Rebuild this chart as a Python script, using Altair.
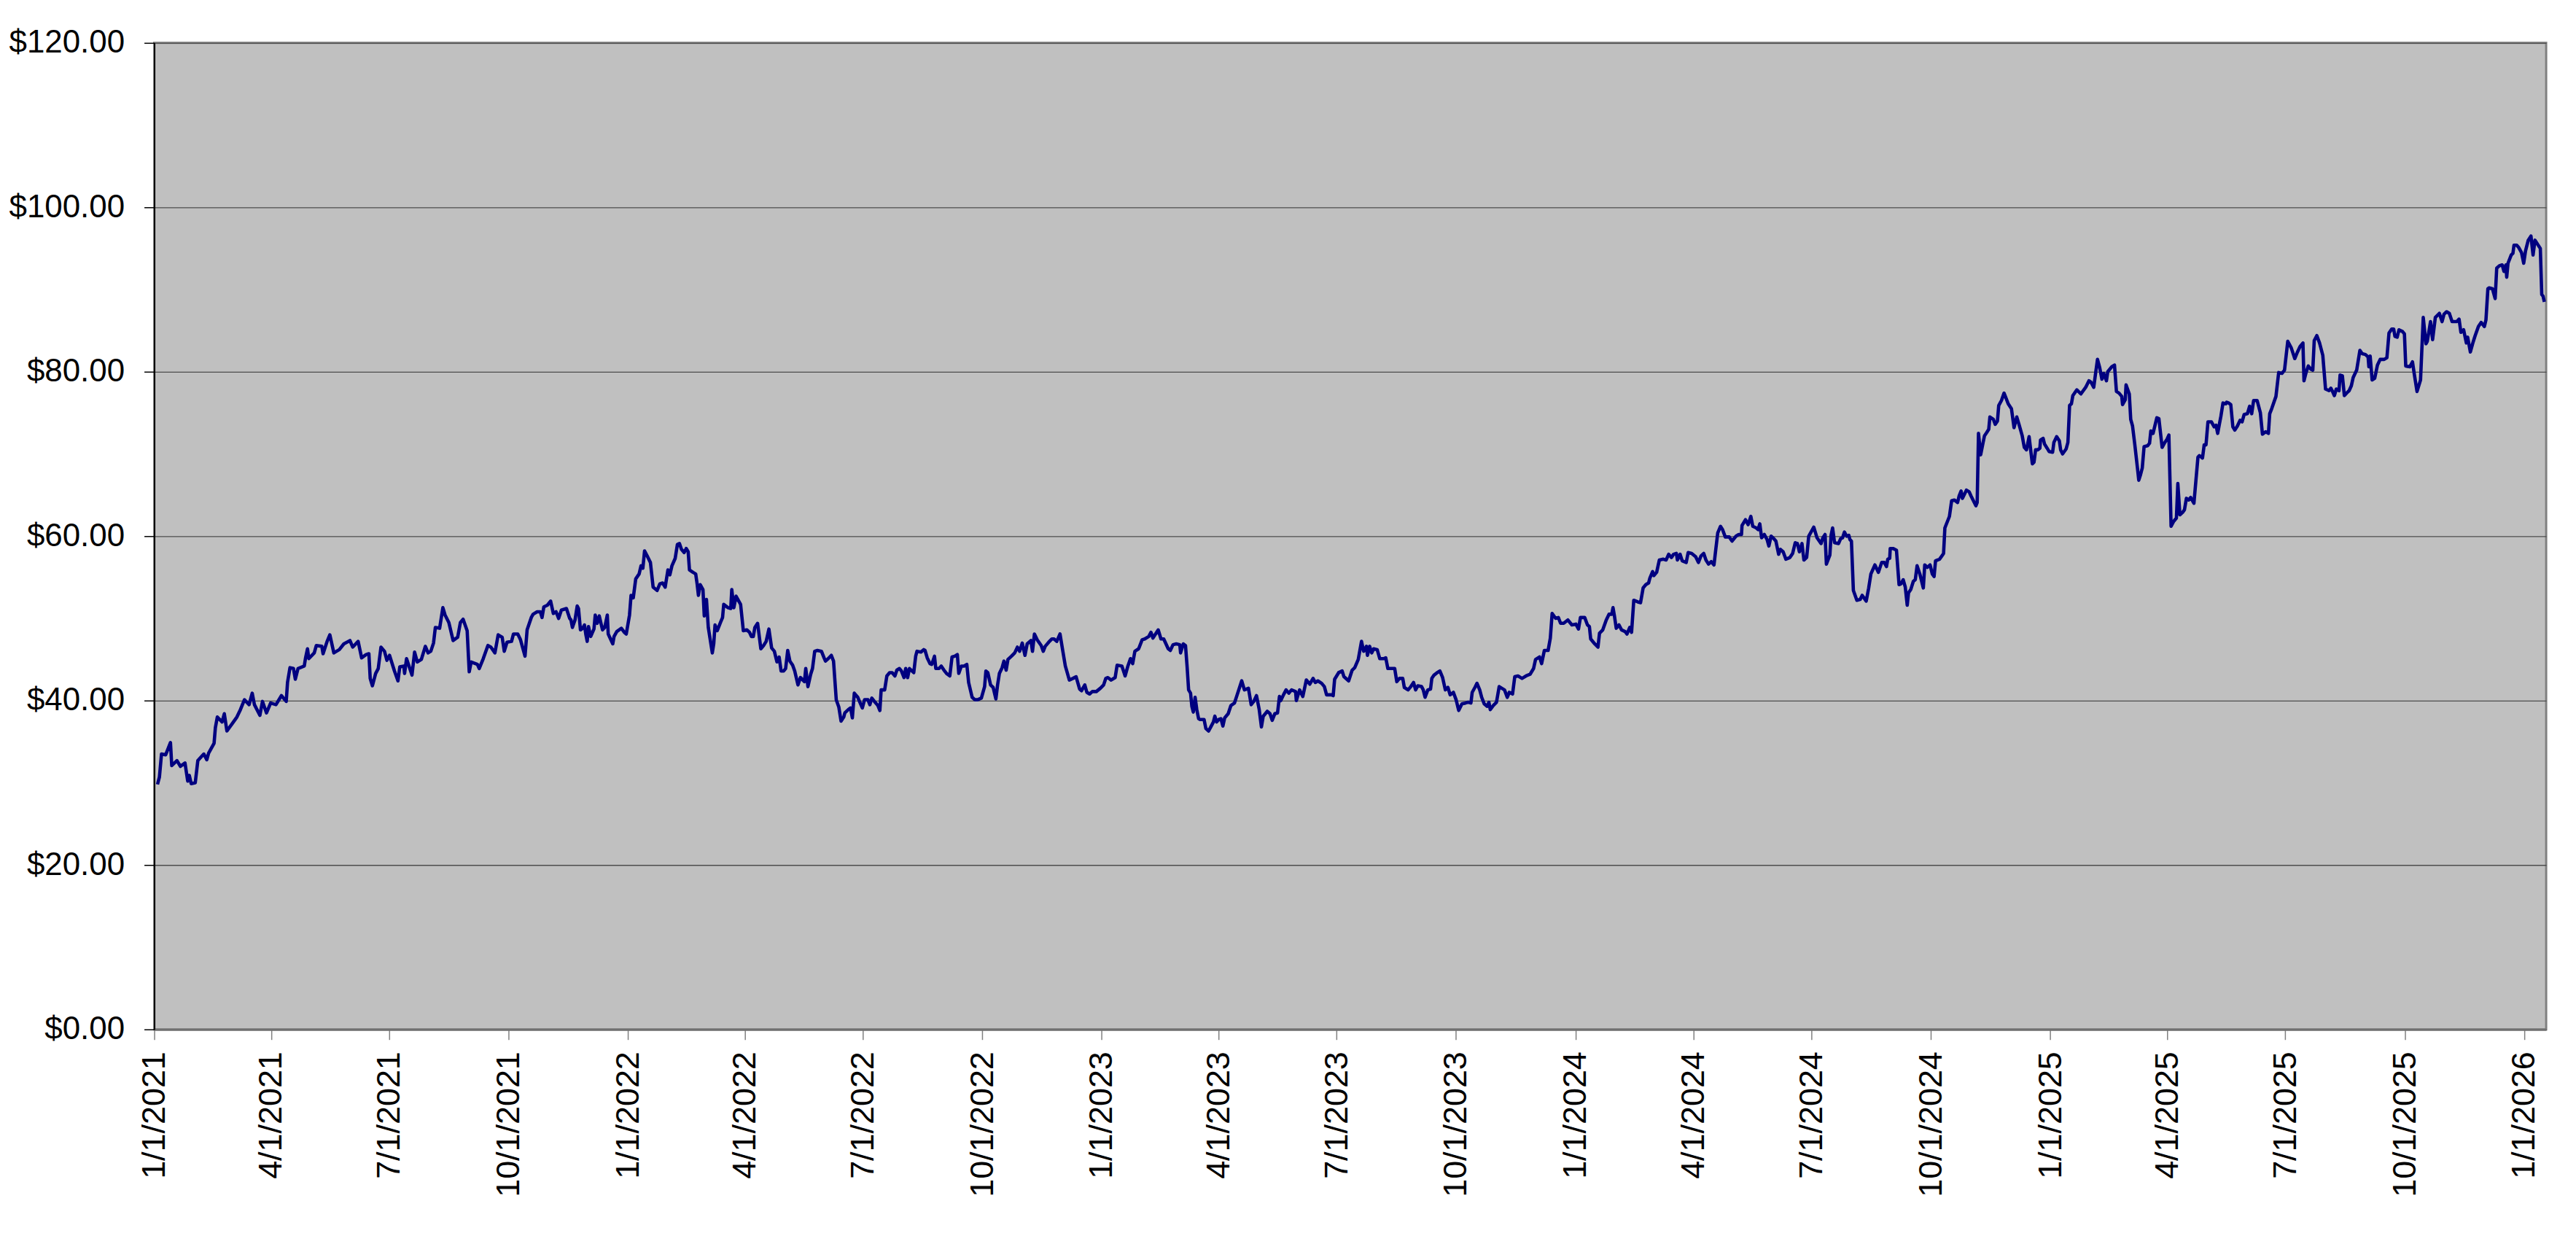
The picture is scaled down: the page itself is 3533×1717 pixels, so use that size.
import altair as alt
import pandas as pd

# Day offsets from 2021-01-01 and closing prices
days = [
    2.5, 4.0, 5.6, 8.8, 10.8, 12.5, 13.5, 17.5, 20.2, 23.7, 25.8, 27.0, 28.5, 31.6, 33.6, 38.2, 40.5, 41.9,
    46.1, 47.1, 48.6, 52.3, 54.0, 56.0, 60.6, 63.7, 66.4, 69.5, 73.1, 75.5, 77.2, 81.4, 83.4, 86.5, 89.7,
    93.8, 98.0, 101.7, 102.7, 104.6, 107.3, 108.7, 110.8, 115.6, 116.6, 118.1, 119.1, 123.3, 124.9, 129.1,
    130.1, 133.2, 135.3, 138.4, 142.6, 146.1, 150.8, 152.9, 157.1, 159.8, 163.3, 165.4, 166.4, 168.1, 170.6,
    172.6, 174.7, 177.4, 179.3, 181.3, 185.1, 187.8, 189.2, 192.3, 192.9, 194.4, 198.6, 200.6, 202.7, 205.8,
    208.9, 211.0, 213.1, 215.2, 216.6, 219.9, 222.4, 224.1, 227.0, 230.3, 233.8, 235.9, 238.0, 241.1, 242.7,
    244.2, 249.0, 250.4, 253.5, 257.1, 259.4, 262.5, 265.0, 268.1, 269.7, 271.8, 275.3, 276.8, 280.1, 282.2,
    285.7, 287.3, 290.5, 291.9, 295.0, 297.5, 298.8, 300.2, 302.9, 305.4, 307.5, 309.6, 311.6, 313.7,
    317.6, 320.1, 321.1, 322.2, 324.2, 325.9, 326.9, 328.4, 330.1, 331.5, 332.5, 333.6, 334.6, 336.3, 338.8,
    339.8, 341.3, 342.9, 345.4, 347.1, 349.1, 349.8, 353.3, 354.3, 356.4, 359.9, 362.2, 363.7, 366.2, 367.4,
    369.1, 371.0, 373.6, 375.1, 376.5, 377.8, 379.8, 382.3, 384.4, 387.5, 389.6, 391.7, 393.7, 395.8, 397.3,
    398.9, 401.4, 403.1, 404.7, 406.2, 408.3, 409.9, 411.4, 412.4, 415.1, 417.2, 418.2, 419.3, 420.7, 422.8,
    423.8, 425.5, 426.9, 430.0, 431.1, 432.1, 433.8, 436.3, 437.9, 438.8, 442.1, 444.2, 445.0, 446.6, 448.3,
    451.8, 453.9, 456.6, 458.7, 460.1, 461.6, 462.8, 464.9, 467.4, 469.5, 471.5, 473.6, 475.7, 477.8, 479.8,
    481.5, 483.0, 485.0, 486.5, 488.1, 489.8, 491.9, 493.5, 496.0, 497.9, 501.0, 502.0, 503.7, 505.8, 507.2,
    508.9, 511.0, 514.1, 516.1, 517.2, 519.3, 521.7, 523.4, 525.5, 527.5, 529.2, 531.3, 532.1, 534.8, 536.5,
    537.9, 539.4, 542.1, 543.7, 545.6, 547.3, 549.9, 551.4, 552.9, 554.9, 557.6, 559.1, 560.1, 562.8, 564.5,
    566.6, 568.6, 570.7, 572.2, 574.2, 575.7, 577.7, 579.0, 580.5, 581.9, 585.2, 586.7, 587.7, 590.8, 592.9,
    593.9, 595.6, 597.7, 599.1, 601.2, 602.2, 604.7, 606.4, 608.5, 610.5, 613.0, 614.7, 616.8, 618.8, 619.9,
    621.9, 624.0, 626.1, 627.5, 630.2, 632.3, 634.4,
    637.3, 639.8, 640.8, 642.3, 644.4, 646.4, 648.5, 649.8, 651.2, 653.3, 654.7, 656.4, 657.8, 660.5, 663.0,
    665.1, 666.8, 668.8, 670.9, 672.6, 675.5, 676.7, 678.2, 680.3, 683.4, 685.0, 686.5, 689.2, 691.7, 693.3,
    695.4, 697.9, 700.0, 702.0, 703.1, 705.1, 707.8, 710.3, 713.0, 714.5, 717.0, 718.6, 720.7, 722.8, 725.9,
    729.0, 731.5, 733.2, 734.8, 737.3, 740.4, 741.9, 745.6, 748.1, 750.2, 752.2, 753.9, 755.6, 758.5, 761.2,
    763.2, 766.3, 768.0, 769.5, 773.6, 775.7, 777.8, 781.3, 782.9, 785.0, 787.5, 790.2, 790.8, 792.9, 794.6,
    795.8, 797.0, 798.5, 799.5, 800.6, 802.0, 803.3, 804.7, 805.8, 808.9, 810.3, 812.4, 814.1, 816.1, 817.2,
    818.6, 820.3, 821.9, 823.4, 824.8, 827.5, 829.6, 832.3, 834.4, 837.9, 840.0, 843.1, 845.2, 847.2, 849.3,
    851.4, 853.1, 854.5, 857.6, 859.7, 861.4, 863.4, 865.5, 867.0, 868.0, 870.1, 872.1, 874.2, 876.3, 879.4,
    880.0, 882.5, 885.0, 887.7, 890.4, 892.9, 894.6, 896.6, 899.5, 901.6, 903.3, 907.0, 908.4, 909.5, 912.6,
    915.3, 916.7, 920.3, 923.0, 925.0, 927.7, 930.2, 931.9, 934.0, 934.8, 936.5, 938.1, 939.6, 942.3, 944.3,
    947.2, 948.9, 950.5, 953.0,
    955.8, 957.4, 959.5, 962.0, 963.2, 966.1, 968.2, 970.3, 971.9, 973.6, 976.5, 977.8, 979.2, 981.3, 983.4,
    984.4, 986.1, 988.5, 990.6, 992.7, 994.8, 996.8, 998.5, 1001.0, 1003.1, 1005.1, 1007.6, 1010.3, 1012.4,
    1014.5, 1015.5, 1017.6, 1019.2, 1021.3, 1022.8, 1024.8, 1026.9, 1028.4, 1029.4, 1031.7, 1034.2, 1036.3,
    1038.3, 1040.4, 1042.5, 1044.1, 1046.6, 1048.3, 1050.8, 1053.9, 1057.0, 1060.1, 1062.8, 1064.3, 1067.4,
    1069.0, 1071.1, 1074.0, 1075.7, 1077.1, 1079.8, 1081.9, 1083.6, 1086.0, 1089.2, 1092.3, 1095.4, 1097.4,
    1098.9, 1102.2, 1104.3, 1105.8, 1106.8, 1109.9, 1112.4, 1113.6, 1116.1, 1118.8, 1120.9, 1123.0, 1124.0,
    1125.0, 1126.5, 1128.6, 1130.6, 1133.3, 1134.8, 1136.9, 1138.3, 1140.0, 1143.1, 1145.2, 1147.2, 1149.3,
    1151.4, 1152.4, 1154.5, 1155.5, 1157.6, 1159.7, 1162.8, 1164.9, 1166.9, 1169.0, 1170.7, 1172.8, 1173.6,
    1175.7, 1177.3, 1180.4, 1181.9, 1184.6, 1187.7, 1189.8, 1191.8, 1193.9, 1195.6, 1197.6, 1199.7, 1201.8,
    1203.2, 1204.7, 1206.8, 1208.4, 1210.5, 1213.6, 1215.7, 1218.8, 1220.9, 1223.0, 1223.4, 1226.1, 1228.1,
    1230.2, 1231.7, 1234.4, 1235.8, 1237.1, 1238.5, 1240.6, 1242.7, 1244.1, 1245.8, 1247.9, 1249.5, 1251.6,
    1253.0, 1255.1, 1257.2, 1260.3, 1262.4, 1264.4, 1266.1, 1267.6, 1269.6, 1271.1, 1273.2, 1274.8,
    1278.7, 1281.2, 1284.3, 1285.7, 1287.4, 1288.4, 1291.1, 1292.0, 1293.2, 1294.7, 1297.8, 1299.4, 1300.9,
    1302.3, 1304.0, 1305.7, 1306.5, 1307.7, 1309.2, 1311.9, 1314.4, 1316.0, 1319.1, 1321.0, 1322.7, 1325.8,
    1328.5, 1331.0, 1333.0, 1334.7, 1335.7, 1337.2, 1337.6, 1339.7, 1342.4, 1344.4, 1345.9, 1347.6, 1349.2,
    1350.7, 1351.7, 1353.4, 1355.4, 1356.9, 1358.3, 1360.4, 1363.1, 1364.2, 1366.2, 1368.3, 1370.0, 1371.4,
    1372.5, 1375.6, 1377.0, 1378.7, 1379.7, 1381.2, 1383.2, 1384.9, 1387.0, 1389.5, 1390.7, 1392.2, 1393.2,
    1396.3, 1398.4, 1399.8, 1403.6, 1404.6, 1405.6, 1407.3, 1408.8, 1410.2, 1411.9, 1413.5, 1414.4, 1417.1,
    1418.5, 1420.2, 1421.2, 1423.3, 1425.3, 1426.8, 1428.5, 1431.0, 1433.0, 1435.1, 1436.8, 1439.3, 1440.9,
    1442.6, 1444.6, 1447.1, 1448.4, 1449.6, 1451.3, 1452.9, 1453.4, 1455.4, 1456.5, 1458.5, 1460.0, 1462.7,
    1463.7, 1465.8, 1467.9, 1468.9, 1470.4, 1473.1, 1474.5, 1475.8, 1477.2, 1478.3, 1481.4, 1484.5, 1488.2,
    1490.7, 1492.4, 1494.4, 1495.9, 1497.3, 1499.0, 1500.7, 1502.1, 1504.2, 1505.2, 1508.3, 1510.4, 1511.9,
    1513.9, 1516.0, 1516.6, 1518.7, 1519.3, 1521.8, 1522.9, 1524.3, 1526.0, 1528.0, 1529.1, 1530.5, 1531.8,
    1533.2, 1535.9, 1537.4, 1538.4, 1540.1, 1543.0, 1544.6, 1547.1, 1549.2, 1550.9, 1552.3, 1554.0, 1556.0,
    1558.1, 1559.2, 1560.8, 1562.9, 1564.3, 1565.8, 1567.5, 1569.1, 1571.6, 1574.7, 1575.8, 1578.2, 1579.5,
    1580.9, 1582.4, 1585.1, 1587.2, 1588.6, 1589.9, 1591.3, 1592.4, 1594.0, 1596.1,
    1596.8, 1598.3, 1600.0, 1601.6, 1603.1, 1605.1, 1607.2, 1608.7, 1610.3, 1612.8, 1614.5, 1616.1, 1617.6,
    1620.3, 1622.8, 1624.4, 1626.9, 1629.0, 1630.0, 1631.5, 1634.8, 1636.9, 1639.4, 1641.4, 1643.9, 1646.6,
    1649.3, 1651.4, 1653.5, 1655.6, 1656.4, 1658.0, 1659.7, 1661.8, 1663.2, 1664.3, 1666.3, 1668.4, 1670.9,
    1673.0, 1675.7, 1677.1, 1678.4, 1679.8, 1681.3, 1683.4, 1684.2, 1686.0, 1687.5, 1689.2, 1691.2, 1692.9,
    1694.3, 1697.0, 1699.5, 1701.2, 1703.7, 1705.8, 1706.4, 1707.4, 1708.9, 1710.9, 1713.0, 1715.1, 1718.2,
    1720.3, 1721.9, 1724.0, 1725.5, 1726.5, 1728.2, 1729.6, 1732.3, 1733.8, 1734.8, 1737.9, 1740.0, 1741.4,
    1743.5, 1746.2, 1748.3, 1750.4, 1751.4, 1753.9, 1755.5, 1757.6, 1760.7, 1762.8, 1764.3, 1766.3, 1768.4,
    1770.5, 1774.2, 1775.9, 1777.3, 1779.4, 1781.5, 1782.5, 1784.6, 1786.7, 1788.3, 1790.8, 1792.9, 1795.4,
    1796.6, 1798.1, 1799.1, 1801.6, 1803.7, 1804.9, 1807.0, 1809.1, 1810.5, 1812.0, 1812.6, 1813.6, 1816.1,
    1817.4, 1818.2, 1820.3, 1821.9, 1824.0, 1825.7, 1827.1, 1829.2, 1831.3, 1832.9, 1834.4, 1836.4, 1838.5,
    1839.6, 1840.6, 1841.6,
]

prices = [
    29.8, 30.7, 33.5, 33.4, 34.2, 34.9, 32.1, 32.7, 32.0, 32.4, 30.2, 30.9, 29.9, 30.0, 32.7, 33.5, 32.8, 33.6,
    34.8, 36.7, 38.0, 37.4, 38.4, 36.3, 37.3, 38.0, 38.9, 40.1, 39.5, 40.9, 39.5, 38.2, 39.9, 38.5, 39.7,
    39.5, 40.6, 39.9, 42.2, 44.0, 43.9, 42.6, 43.9, 44.2, 45.2, 46.3, 45.1, 45.8, 46.7, 46.6,
    45.7, 47.2, 48.0, 45.8, 46.2, 46.9, 47.3, 46.5, 47.2, 45.2, 45.6, 45.7, 42.7, 41.8, 43.3,
    43.9, 46.5, 46.0, 44.9, 45.5, 43.6, 42.4, 44.1, 44.2, 43.3, 45.1, 43.1, 45.9, 44.7, 45.0,
    46.6, 45.8, 46.0, 47.0, 48.9, 48.8, 51.3, 50.4, 49.5, 47.3, 47.7, 49.5, 49.9, 48.5, 43.5,
    44.7, 44.4, 43.9, 45.1, 46.7, 46.5, 45.8, 48.0, 47.7, 46.0, 47.1, 47.2, 48.1, 48.1, 47.4,
    45.4, 48.6, 50.1, 50.5, 50.8, 50.8, 50.1, 51.4, 51.6, 52.1, 50.6, 50.8, 50.0, 51.0,
    51.2, 50.0, 49.8, 48.9, 49.8, 51.5, 51.2, 48.6, 48.8, 49.2, 48.1, 47.2, 49.0, 47.8, 48.7,
    50.4, 49.4, 50.3, 48.6, 48.9, 50.4, 48.1, 46.9, 47.8, 48.4, 48.8, 48.3, 48.1, 50.4, 52.8,
    52.5, 54.8, 55.4, 56.4, 56.1, 58.2, 57.6, 56.8, 53.8, 53.4, 54.2, 54.3, 53.8, 55.9, 55.3,
    56.4, 57.3, 59.0, 59.1, 58.4, 58.0, 58.5, 58.1, 55.9, 55.6, 55.4, 54.3, 52.8, 54.1, 53.5,
    50.3, 52.3, 48.9, 45.8, 46.9, 49.2, 48.5, 49.5, 50.1, 51.7, 51.3, 51.2, 53.5, 51.3, 52.7,
    51.7, 48.5, 48.6, 48.3, 47.8, 47.8, 48.9, 49.4, 46.3, 46.7, 47.2, 48.7, 46.4, 46.0, 44.7,
    45.3, 43.6, 43.6, 43.9, 46.1, 44.8, 44.3, 43.6, 41.9, 42.8, 42.3, 43.9, 41.7, 43.2, 43.9,
    46.0, 46.1, 46.0, 45.2, 44.8, 45.1, 45.5, 44.8, 40.1, 39.2, 37.5, 38.0, 38.5, 38.9, 39.1,
    37.9, 40.9, 40.4, 39.8, 39.1, 40.1, 40.1, 39.5, 40.3, 39.9, 39.4, 38.8, 41.3, 41.3, 43.0,
    43.4, 43.4, 43.0, 43.7, 43.9, 43.6, 42.8, 43.9, 42.8, 43.9, 43.4, 45.4, 46.0, 45.9, 46.2,
    46.1, 45.2, 44.5, 44.4, 45.4, 43.9, 43.9, 44.2, 43.7, 43.3, 43.0, 45.3, 45.4, 45.6, 43.3,
    44.2, 44.2, 44.4, 42.2, 40.4, 40.1, 40.1,
    40.3, 41.7, 43.6, 43.4, 41.9, 41.6, 40.2, 41.9, 43.3, 44.0, 44.8, 43.7, 45.0, 45.4, 45.8,
    46.5, 46.0, 47.0, 45.5, 46.9, 47.3, 46.0, 48.1, 47.4, 46.7, 46.0, 46.6, 47.1, 47.5, 47.5,
    47.2, 48.1, 46.1, 44.2, 43.6, 42.5, 42.7, 42.9, 41.4, 41.2, 41.9, 41.0, 40.8, 41.1, 41.1,
    41.5, 41.9, 42.7, 42.8, 42.5, 42.8, 44.3, 44.2, 43.0, 44.2, 45.1, 44.5, 46.0, 46.3, 47.4,
    47.5, 47.8, 48.3, 47.6, 48.6, 47.5, 47.5, 46.3, 46.1, 46.8, 46.9, 46.8, 45.8, 46.9, 46.7,
    44.2, 41.3, 40.9, 39.3, 38.6, 40.4, 38.9, 37.8, 37.7, 37.7, 36.6, 36.3, 36.8, 37.4, 38.1,
    37.4, 37.7, 37.8, 36.9, 37.9, 38.4, 39.4, 39.7, 40.7, 42.4, 41.3, 41.5, 39.5, 39.9, 40.6,
    38.9, 36.8, 38.1, 38.7, 38.4, 37.6, 38.4, 38.5, 40.5, 40.0, 40.7, 41.3, 40.9, 41.3, 41.1,
    40.0, 41.3, 40.5, 42.5, 42.0, 42.7, 42.2, 42.4, 42.1, 41.7, 40.7, 40.7, 40.6, 42.6, 43.4,
    43.6, 42.9, 42.4, 43.7, 44.0, 45.0, 47.2, 46.0, 46.6, 45.5, 46.6, 45.8, 46.3, 46.2, 45.1,
    45.1, 45.2, 43.9, 43.9,
    43.9, 42.3, 42.7, 42.7, 41.6, 41.3, 41.7, 42.2, 41.3, 41.8, 41.7, 41.3, 40.4, 41.3, 41.4,
    42.7, 43.1, 43.4, 43.6, 42.8, 41.3, 41.6, 40.7, 41.0, 40.1, 38.8, 39.6, 39.7, 39.8,
    39.7, 41.0, 41.6, 42.1, 41.3, 40.4, 39.6, 39.3, 39.8, 38.9, 39.4, 39.8, 41.7,
    41.5, 41.3, 40.4, 41.0, 40.8, 42.9, 43.0, 42.7, 43.0, 43.2, 43.9, 45.0, 45.3,
    44.5, 46.1, 46.1, 47.6, 50.6, 50.0, 50.1, 49.4, 49.4, 49.8, 49.2, 49.3, 48.7,
    50.1, 50.1, 49.2, 49.0, 47.5, 46.9, 46.5, 48.2, 48.6, 49.8, 50.5, 50.5, 51.3,
    50.4, 48.8, 49.2, 48.6, 48.4, 48.1, 48.9, 48.3, 52.2, 52.0, 51.9, 53.7, 54.1,
    54.3, 54.9, 55.7, 55.2, 55.6, 57.1, 57.2, 57.1, 57.8, 57.4, 57.8, 57.9, 57.1,
    57.8, 57.0, 56.8, 58.0, 57.9, 57.5, 56.8, 57.6, 57.9, 57.1, 56.6, 56.9, 56.5,
    58.4, 60.4, 61.2, 60.8, 59.9, 59.9, 59.4, 60.0, 60.2, 60.2, 61.3, 62.0, 61.4,
    62.4, 61.2, 61.0, 60.8, 61.5, 59.8, 60.2, 59.6, 58.8, 60.0, 59.7, 59.4, 57.8,
    58.4, 58.1, 57.2, 57.4, 57.9, 59.2, 59.1, 58.1, 59.1, 57.1, 57.4, 60.0,
    61.1, 59.8, 59.1, 59.8, 60.2, 56.6, 57.7, 60.1, 61.0, 59.2, 59.1, 59.7, 59.8,
    60.5, 60.0, 60.1, 59.6, 59.4, 53.4, 52.2, 52.3, 52.8, 52.1, 53.7, 55.4, 56.5,
    55.6, 56.8, 56.8, 56.3, 57.2, 57.3, 58.5, 58.5, 58.3, 54.1, 54.2, 54.7, 53.8,
    51.6, 53.1, 53.5, 54.5, 54.7, 56.4, 55.4, 53.7, 56.5, 56.2, 56.5, 55.4, 55.1,
    57.0, 57.2, 57.5, 57.9, 61.0, 61.6, 62.4, 64.3, 64.4, 64.1, 64.9, 65.5, 64.6,
    65.6, 65.4, 64.9, 63.7, 64.1, 72.5, 69.9, 71.1, 72.2, 72.6, 73.0, 74.5, 74.2,
    73.6, 74.0, 75.9, 76.5, 77.4, 76.8, 76.1, 75.5, 73.2, 74.5, 73.6, 72.2, 70.8,
    70.5, 72.1, 68.8, 69.0, 70.5, 70.5, 70.7, 71.7, 71.9, 71.2, 70.7, 70.3, 70.2,
    71.4, 72.1, 71.6, 70.5, 70.0, 70.6, 71.4, 75.9, 76.1, 77.1, 77.8, 77.3, 78.1,
    78.9, 78.7, 78.1, 79.9, 81.5, 80.5, 79.1, 79.8, 78.9, 80.0, 80.6, 80.8, 77.6,
    77.4, 77.0, 76.0, 76.6, 78.4, 77.3, 74.2, 73.4, 71.2, 68.4, 66.8, 67.5, 68.3,
    70.9, 71.0, 71.3, 72.8, 72.5, 74.4, 74.3, 70.8, 71.4, 71.8, 72.3, 61.2, 61.8,
    62.2, 66.4, 62.6, 62.9, 63.2, 64.6, 64.4, 64.7, 64.0, 69.6, 69.8, 69.5, 71.1,
    71.1, 73.9, 73.9, 73.3, 73.5, 72.5, 73.7, 74.6, 76.2, 76.1,
    76.3, 76.2, 76.0, 73.3, 72.9, 73.4, 74.1, 73.9, 74.8, 74.9, 75.8, 74.9, 76.5,
    76.5, 75.0, 72.4, 72.7, 72.5, 74.9, 75.5, 77.0, 79.9, 79.8, 80.2, 83.7, 82.9,
    81.6, 82.4, 83.1, 83.5, 78.9, 79.9, 80.7, 80.3, 80.2, 83.8, 84.4, 83.5, 82.0,
    77.9, 77.7, 78.0, 77.6, 77.1, 77.9, 77.7, 79.6, 79.5, 77.1, 77.4, 77.7, 78.3,
    79.3, 80.2, 82.6, 82.2, 82.1, 81.8, 80.6, 81.9, 79.0, 79.2, 80.8, 81.5, 81.5,
    81.7, 84.7, 85.2, 85.2, 84.3, 84.2, 85.1, 84.9, 84.6, 80.7, 80.6, 81.2, 79.7,
    77.6, 79.0, 86.6, 83.4, 83.7, 86.1, 83.9, 86.6, 87.1, 86.1, 87.0, 87.3, 87.1,
    86.1, 86.1, 86.4, 84.8, 85.1, 83.5, 84.2, 82.4, 83.6, 84.4, 85.5, 86.0, 85.5,
    86.3, 90.1, 90.2, 90.1, 88.9, 92.6, 92.9, 93.0, 92.2, 93.0, 91.5, 93.2, 94.2,
    94.4, 95.4, 95.4, 95.1, 94.5, 93.2, 94.7, 96.0, 96.5, 94.2, 96.0, 95.5, 95.0,
    89.4, 89.2, 88.5,
]

start = pd.Timestamp("2021-01-01")
df = pd.DataFrame({
    "date": start + pd.to_timedelta(days, unit="D"),
    "price": prices,
})

tick_dates = [alt.DateTime(year=y, month=m, date=1)
              for y in range(2021, 2027) for m in (1, 4, 7, 10)
              if not (y == 2026 and m > 1)]
y_ticks = [0, 20, 40, 60, 80, 100, 120]

FONT = "Liberation Sans"

chart = alt.Chart(df).mark_line(
    color="#000080", strokeWidth=4.6, strokeJoin="round"
).encode(
    x=alt.X(
        "date:T",
        scale=alt.Scale(domain=[alt.DateTime(year=2021, month=1, date=1),
                                alt.DateTime(year=2026, month=1, date=18)], nice=False),
        axis=alt.Axis(
            values=tick_dates, format="%-m/%-d/%Y", labelAngle=270, title=None,
            labelFont=FONT, labelFontSize=45, labelColor="#000000", labelPadding=16,
            labelFlush=False, labelOverlap=False, labelLimit=0,
            tickSize=14, tickColor="#808080", tickWidth=1.5,
            domainColor="#707070", domainWidth=3, grid=False,
        ),
    ),
    y=alt.Y(
        "price:Q",
        scale=alt.Scale(domain=[0, 120], nice=False, zero=True),
        axis=alt.Axis(
            values=y_ticks, format="$,.2f", title=None,
            labelFont=FONT, labelFontSize=44, labelColor="#000000", labelPadding=27,
            labelFlush=False, labelOverlap=False, labelLimit=0,
            tickSize=14, tickColor="#000000", tickWidth=1.5,
            domainColor="#000000", domainWidth=2,
            grid=True, gridColor="#4d4d4d", gridWidth=1.3,
        ),
    ),
).properties(
    width=3288,
    height=1356,
    padding={"left": 204, "top": 49, "right": 33, "bottom": 304},
    autosize=alt.AutoSizeParams(type="none"),
    background="#ffffff",
).configure_view(
    fill="#C0C0C0", stroke="#808080", strokeWidth=3
)

chart.save("out.html", embed_options={"renderer": "svg", "actions": False})
